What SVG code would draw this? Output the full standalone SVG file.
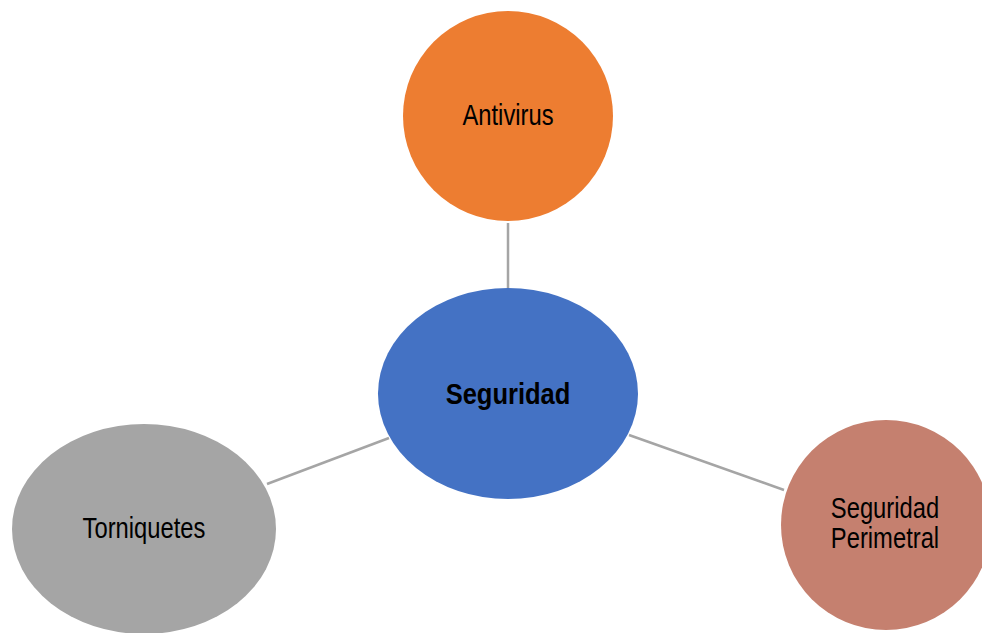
<svg xmlns="http://www.w3.org/2000/svg" width="982" height="633" viewBox="0 0 982 633">
<style>
.lbl{font-family:"Liberation Sans",Arial,sans-serif;font-size:29px;fill:#000;text-anchor:middle}
.b{font-weight:bold}
.conn line{stroke:#A5A5A5;stroke-width:2.5}
</style>
<rect width="982" height="633" fill="#fff"/>
<g id="connectors" class="conn">
<line x1="508" y1="223" x2="508" y2="288"/>
<line x1="267" y1="484" x2="389" y2="438"/>
<line x1="629" y1="435" x2="784" y2="490"/>
</g>
<g id="antivirus">
<circle cx="508" cy="116" r="105" fill="#ED7D31"/>
<text class="lbl" transform="translate(508,125) scale(0.82,1)">Antivirus</text>
</g>
<g id="seguridad">
<ellipse cx="508" cy="393.5" rx="130" ry="105.5" fill="#4472C4"/>
<text class="lbl b" transform="translate(508,404) scale(0.88,1)">Seguridad</text>
</g>
<g id="torniquetes">
<ellipse cx="144" cy="529" rx="132" ry="105" fill="#A5A5A5"/>
<text class="lbl" transform="translate(144,538) scale(0.82,1)">Torniquetes</text>
</g>
<g id="perimetral">
<circle cx="886" cy="525" r="105" fill="#C5806F"/>
<text class="lbl" transform="translate(885,518) scale(0.82,1)">Seguridad</text>
<text class="lbl" transform="translate(885,548) scale(0.82,1)">Perimetral</text>
</g>
</svg>
